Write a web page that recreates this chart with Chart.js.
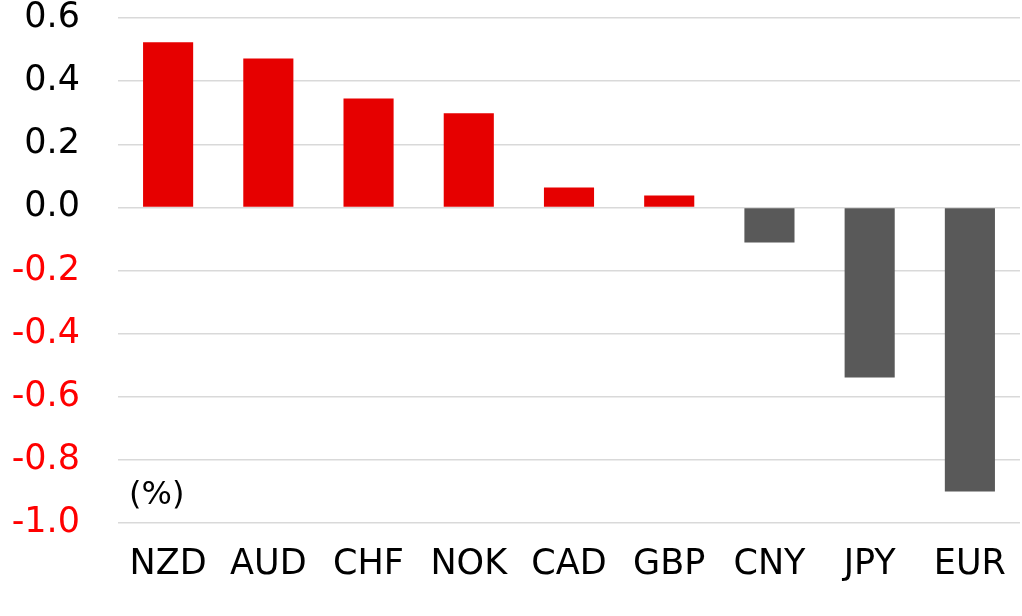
<!DOCTYPE html>
<html>
<head>
<meta charset="utf-8">
<script src="https://cdn.jsdelivr.net/npm/chart.js@4/dist/chart.umd.min.js"></script>
<style>
  html, body { margin: 0; padding: 0; background: #fff; }
  #wrap { width: 1022px; height: 616px; }
</style>
</head>
<body>
<div id="wrap"><canvas id="chart"></canvas></div>
<script>
'use strict';

const currencies = ['NZD', 'AUD', 'CHF', 'NOK', 'CAD', 'GBP', 'CNY', 'JPY', 'EUR'];
const changes = [0.523, 0.472, 0.345, 0.298, 0.063, 0.038, -0.111, -0.539, -0.900];
const yTicks = [-1.0, -0.8, -0.6, -0.4, -0.2, 0.0, 0.2, 0.4, 0.6];

const RED = '#e60000';
const GREY = '#595959';
const FONT = "'DejaVu Sans', sans-serif";

// draws the "(%)" unit note inside the plot, bottom left
const unitLabel = {
  id: 'unitLabel',
  afterDraw(chart) {
    const { ctx, chartArea } = chart;
    ctx.save();
    ctx.font = `32px ${FONT}`;
    ctx.fillStyle = '#000';
    ctx.textBaseline = 'middle';
    ctx.fillText('(%)', chartArea.left + 11, chartArea.bottom - 27);
    ctx.restore();
  }
};

new Chart(document.getElementById('chart'), {
  type: 'bar',
  data: {
    labels: currencies,
    datasets: [{
      data: changes,
      backgroundColor: changes.map(v => v >= 0 ? RED : GREY),
      borderWidth: 0,
      categoryPercentage: 1.0,
      barPercentage: 0.5
    }]
  },
  options: {
    responsive: true,
    maintainAspectRatio: false,
    animation: false,
    layout: { padding: { top: 18, right: 2, bottom: 12, left: 0 } },
    plugins: {
      legend: { display: false },
      tooltip: { enabled: false }
    },
    scales: {
      x: {
        afterFit(scale) {
          scale.height = 81;
          scale.paddingLeft = 0;
          scale.paddingRight = 0;
        },
        grid: { display: false, drawTicks: false },
        border: { display: false },
        ticks: {
          color: '#000',
          padding: 21,
          maxRotation: 0,
          font: { family: FONT, size: 35 }
        }
      },
      y: {
        min: -1.0,
        max: 0.6,
        afterFit(scale) {
          scale.width = 118;
          scale.paddingTop = 0;
          scale.paddingBottom = 0;
        },
        afterBuildTicks(scale) { scale.ticks = yTicks.map(v => ({ value: v })); },
        grid: { color: '#d9d9d9', lineWidth: 1.5, drawTicks: false },
        border: { display: false },
        ticks: {
          padding: 38,
          color: c => c.tick.value < 0 ? '#ff0000' : '#000',
          font: { family: FONT, size: 35 },
          callback: v => v.toFixed(1)
        }
      }
    }
  },
  plugins: [unitLabel]
});
</script>
</body>
</html>
